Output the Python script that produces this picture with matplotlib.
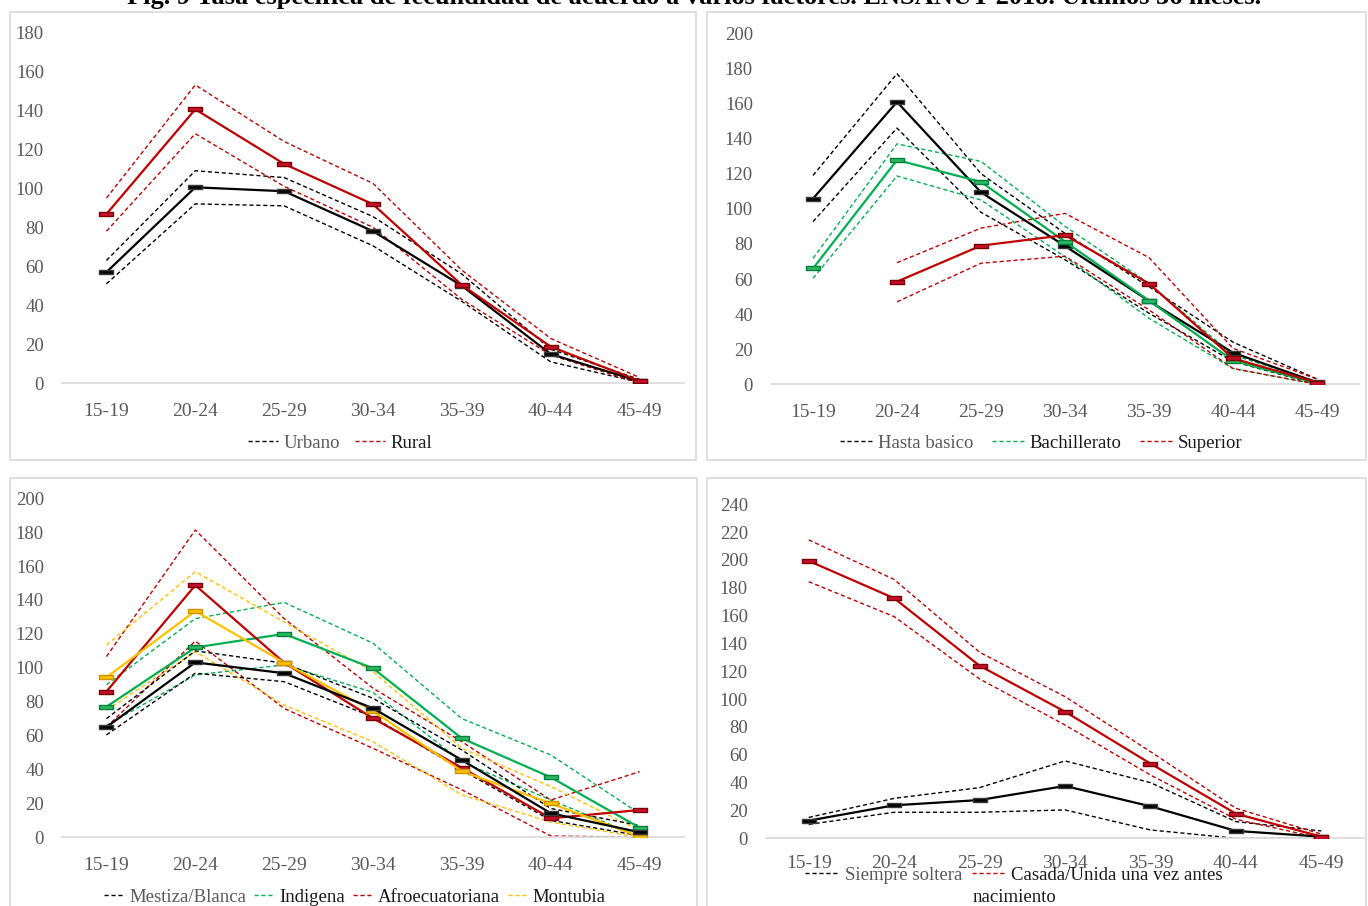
import numpy as np
import matplotlib
matplotlib.use('Agg')
import matplotlib.pyplot as plt
from matplotlib.lines import Line2D
from matplotlib.path import Path
from matplotlib.patches import Rectangle

plt.rcParams['font.family'] = ['Liberation Serif', 'DejaVu Serif']

W, H = 1368, 906
grupos = ['15-19', '20-24', '25-29', '30-34', '35-39', '40-44', '45-49']

# Panel 1: area
urbano = [57, 100.5, 98.5, 78, 50, 15, 1]
urbano_sup = [63, 109, 105.5, 85.5, 56, 17.5, 2]
urbano_inf = [51, 92, 91, 70.5, 42, 11, 0.5]
rural = [86.8, 140.5, 112.5, 91.8, 50.4, 18.8, 1.2]
rural_sup = [95, 153, 124, 102.5, 58, 23, 3]
rural_inf = [78, 128, 101, 80, 43, 14.5, 0]

# Panel 2: educacion
basico = [105.8, 160.9, 109.4, 78.8, 47.5, 18, 1.1]
basico_sup = [119, 177, 120, 86, 55.6, 24, 3]
basico_inf = [92.7, 146, 98, 71, 40.5, 13, 0]
bachiller = [66, 127.8, 115.3, 81.3, 47.7, 13.5, 0.6]
bachiller_sup = [71.8, 137, 127, 90, 57.5, 16.7, 1.5]
bachiller_inf = [60.4, 118.7, 105, 72.7, 37.6, 9, 0]
superior = [np.nan, 58.5, 79, 85, 57.4, 14.8, 1]
superior_sup = [np.nan, 69.3, 89, 97.4, 72.2, 20.5, 3]
superior_inf = [np.nan, 47, 69, 73, 42.4, 9, 0]

# Panel 3: etnia
mestiza = [65, 103.2, 96.8, 76.1, 45.6, 14.2, 3]
mestiza_sup = [70, 110, 102.7, 82, 51.5, 17, 7]
mestiza_inf = [60.4, 96.8, 91.8, 71, 39.7, 10, 1]
indigena = [77, 112, 120, 99.7, 58.4, 35.4, 5.7]
indigena_sup = [90, 129, 138.6, 114.5, 70, 48.6, 14]
indigena_inf = [66, 95.8, 101.7, 85.5, 44.6, 22, 0.5]
afro = [86, 148.7, 103, 70.2, 41, 11.2, 16.1]
afro_sup = [106.6, 181.3, 129, 88, 56.4, 22, 38.7]
afro_inf = [65, 115.8, 76, 52.5, 28, 0.8, 0]
montubia = [94.4, 133.5, 103, 74.5, 39, 20, 0.4]
montubia_sup = [113.5, 156.7, 127, 97.7, 52.5, 30, 4]
montubia_inf = [75, 109.5, 78, 56.4, 25, 9, 0]

# Panel 4: estado civil
soltera = [12.7, 23.7, 27.5, 37.6, 23, 5.3, 1.2]
soltera_sup = [15, 28.7, 36.4, 55.6, 40, 12, 5.3]
soltera_inf = [10, 18.7, 18.7, 20.4, 6, 0, 0]
casada = [199.3, 172.5, 124, 91, 53.7, 17.7, 1.2]
casada_sup = [214.4, 186, 133.7, 101.8, 62.3, 21.6, 3]
casada_inf = [184.4, 159.3, 114.5, 81.4, 45.5, 13.7, 0]

NEGRO = ('#000000', '#000000', '#3a3a3a')
ROJO = ('#C00000', '#C8102E', '#7a0000')
VERDE = ('#00B050', '#2fb862', '#00803a')
AMARILLO = ('#FFC000', '#FFC000', '#c99400')

rect = Path([(-1, -0.34), (1, -0.34), (1, 0.34), (-1, 0.34), (-1, -0.34)],
            [Path.MOVETO, Path.LINETO, Path.LINETO, Path.LINETO, Path.CLOSEPOLY])

fig = plt.figure(figsize=(W / 100, H / 100), dpi=100)


def panel_axes(x0, x1, y_top, y_zero):
    return fig.add_axes([x0 / W, (H - y_zero) / H, (x1 - x0) / W, (y_zero - y_top) / H])


def serie(ax, media, sup, inf, col):
    x = np.arange(len(grupos))
    linea, cara, borde = col
    ax.plot(x, sup, color=linea, lw=1.0, ls=(0, (3, 2)), zorder=2)
    ax.plot(x, inf, color=linea, lw=1.0, ls=(0, (3, 2)), zorder=2)
    ax.plot(x, media, color=linea, lw=1.6, zorder=3, marker=rect, markersize=10.5,
            markerfacecolor=cara, markeredgecolor=borde, markeredgewidth=1.0)


def estilo(ax, ymax, ypad=13, xpad=14):
    ax.set_xlim(-0.5, 6.5)
    ax.set_ylim(0, ymax)
    ax.set_yticks(np.arange(0, ymax + 1, 20))
    ax.set_xticks(np.arange(len(grupos)))
    ax.set_xticklabels(grupos)
    for s in ['top', 'right', 'left']:
        ax.spines[s].set_visible(False)
    ax.spines['bottom'].set_color('#D9D9D9')
    ax.spines['bottom'].set_linewidth(1.2)
    ax.tick_params(axis='y', length=0, pad=ypad, labelsize=13.5, labelcolor='#595959')
    ax.tick_params(axis='x', length=0, pad=xpad, labelsize=14, labelcolor='#595959')
    ax.patch.set_alpha(0)


def leyenda(cx, cy, nombres, colores, hl=1.6, cs=0.6, tp=0.3):
    h = [Line2D([], [], color=c[0], lw=1.0, ls=(0, (3, 2))) for c in colores]
    leg = fig.legend(h, nombres, loc='center', bbox_to_anchor=(cx / W, 1 - cy / H),
                     ncol=len(nombres), frameon=False, fontsize=13.5, handlelength=hl,
                     handletextpad=tp, columnspacing=cs, borderpad=0)
    for i, t in enumerate(leg.get_texts()):
        t.set_color('#595959' if i == 0 else '#1a1a1a')
    return leg


# marcos de los paneles
for (x0, y0, x1, y1) in [(10, 12, 696, 460), (707, 12, 1366, 460),
                         (10, 478, 697, 930), (707, 478, 1366, 930)]:
    fig.add_artist(Rectangle((x0 / W, 1 - y1 / H), (x1 - x0) / W, (y1 - y0) / H,
                             transform=fig.transFigure, fill=False,
                             ec='#D9D9D9', lw=1.2, zorder=0))

fig.text(694 / W, 1 - 4 / H, 'Fig. 9 Tasa específica de fecundidad de acuerdo a varios factores. '
         'ENSANUT 2018. Últimos 36 meses.', ha='center', va='baseline',
         fontsize=19, fontweight='bold', color='#000000')

# 1
ax1 = panel_axes(62, 684, 32.3, 383.3)
serie(ax1, urbano, urbano_sup, urbano_inf, NEGRO)
serie(ax1, rural, rural_sup, rural_inf, ROJO)
estilo(ax1, 180)
leyenda(340, 443, ['Urbano', 'Rural'], [NEGRO, ROJO], cs=0.8)

# 2
ax2 = panel_axes(771, 1359, 33.3, 384.3)
serie(ax2, basico, basico_sup, basico_inf, NEGRO)
serie(ax2, bachiller, bachiller_sup, bachiller_inf, VERDE)
serie(ax2, superior, superior_sup, superior_inf, ROJO)
estilo(ax2, 200)
leyenda(1041, 443, ['Hasta basico', 'Bachillerato', 'Superior'], [NEGRO, VERDE, ROJO],
        hl=1.7, cs=1.0)

# 3
ax3 = panel_axes(62, 684, 498.3, 837.3)
serie(ax3, indigena, indigena_sup, indigena_inf, VERDE)
serie(ax3, afro, afro_sup, afro_inf, ROJO)
serie(ax3, montubia, montubia_sup, montubia_inf, AMARILLO)
serie(ax3, mestiza, mestiza_sup, mestiza_inf, NEGRO)
estilo(ax3, 200)
leyenda(355, 897, ['Mestiza/Blanca', 'Indigena', 'Afroecuatoriana', 'Montubia'],
        [NEGRO, VERDE, ROJO, AMARILLO], hl=1.1, cs=0.4, tp=0.25)

# 4
ax4 = panel_axes(766, 1364, 504.3, 838.3)
serie(ax4, soltera, soltera_sup, soltera_inf, NEGRO)
serie(ax4, casada, casada_sup, casada_inf, ROJO)
estilo(ax4, 240, xpad=12)
leyenda(1014, 875, ['Siempre soltera', 'Casada/Unida una vez antes'], [NEGRO, ROJO],
        hl=1.8, cs=0.5)
fig.text(1014 / W, 1 - 897 / H, 'nacimiento', ha='center', va='center',
         fontsize=13.5, color='#1a1a1a')

fig.savefig('out.png', dpi=100)
